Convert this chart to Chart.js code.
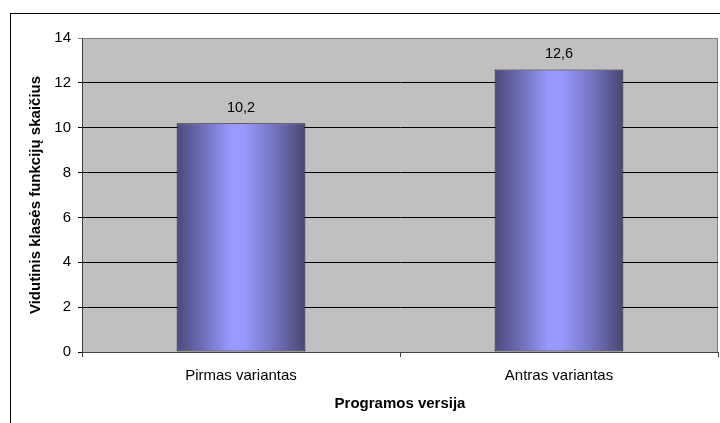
<!DOCTYPE html>
<html>
<head>
<meta charset="utf-8">
<script src="https://cdn.jsdelivr.net/npm/chart.js@4/dist/chart.umd.min.js"></script>
<style>
  html, body { margin: 0; padding: 0; background: #fff; }
  #wrap { width: 720px; height: 423px; }
</style>
</head>
<body>
<div id="wrap"><canvas id="myChart"></canvas></div>
<script>
// program versions and average number of class functions
var versions = ["Pirmas variantas", "Antras variantas"];
var avgFunctions = [10.2, 12.6];
var yTicks = [0, 2, 4, 6, 8, 10, 12, 14];

var FONT = "'Liberation Sans', Arial, sans-serif";

// horizontal shading across each bar, dark at the edges and light in the middle
function barGradient(c) {
    var chart = c.chart;
    var x = chart.scales.x;
    if (!x || c.dataIndex === undefined) return '#9999ff';
    var cx = x.getPixelForValue(c.dataIndex);
    var w = (x.width / versions.length) * 0.405;
    if (!isFinite(cx) || !isFinite(w) || w <= 0) return '#9999ff';
    var g = chart.ctx.createLinearGradient(cx - w / 2, 0, cx + w / 2, 0);
    g.addColorStop(0, '#4a4a7c');
    g.addColorStop(0.18, '#6a6ab2');
    g.addColorStop(0.42, '#9999ff');
    g.addColorStop(0.52, '#9999fc');
    g.addColorStop(0.78, '#7070bc');
    g.addColorStop(1, '#46466e');
    return g;
}

// white page, outer frame and grey plot background
var frame = {
    id: 'frame',
    beforeDraw: function (chart) {
        var ctx = chart.ctx, a = chart.chartArea;
        ctx.save();
        ctx.fillStyle = '#ffffff';
        ctx.fillRect(0, 0, chart.width, chart.height);
        ctx.strokeStyle = '#000000';
        ctx.lineWidth = 1;
        ctx.strokeRect(10.5, 13.5, chart.width + 10, chart.height + 10);
        ctx.fillStyle = '#c0c0c0';
        ctx.fillRect(a.left, a.top, a.right - a.left, a.bottom - a.top);
        ctx.strokeStyle = '#808080';
        ctx.strokeRect(a.left + 0.5, a.top + 0.5, a.right - a.left - 1, a.bottom - a.top);
        ctx.restore();
    }
};

// value above each bar, with a decimal comma
var valueLabels = {
    id: 'valueLabels',
    afterDatasetsDraw: function (chart) {
        var ctx = chart.ctx;
        ctx.save();
        ctx.font = '14.5px ' + FONT;
        ctx.fillStyle = '#000000';
        ctx.textAlign = 'center';
        ctx.textBaseline = 'bottom';
        chart.getDatasetMeta(0).data.forEach(function (bar, i) {
            ctx.fillText(String(avgFunctions[i]).replace('.', ','), bar.x, bar.y - 8);
        });
        ctx.restore();
    }
};

var ctx = document.getElementById("myChart").getContext('2d');
var chart = new Chart(ctx, {
    type: 'bar',
    data: {
        labels: versions,
        datasets: [{
            label: "Vidurkis",
            data: avgFunctions,
            backgroundColor: barGradient,
            borderColor: '#1c1c30',
            borderWidth: 1,
            borderSkipped: false,
            barPercentage: 0.405,
            categoryPercentage: 1
        }]
    },
    options: {
        responsive: true,
        maintainAspectRatio: false,
        animation: false,
        events: [],
        layout: { padding: { left: 0, top: 38, right: 2, bottom: 0 } },
        plugins: {
            legend: { display: false },
            tooltip: { enabled: false }
        },
        scales: {
            x: {
                afterFit: function (s) { s.height = 71; },
                grid: {
                    offset: true,
                    drawOnChartArea: false,
                    drawTicks: true,
                    tickLength: 5,
                    color: '#404040'
                },
                border: { color: '#404040', width: 1 },
                ticks: {
                    color: '#000000',
                    padding: 10,
                    font: { family: FONT, size: 15 }
                },
                title: {
                    display: true,
                    text: 'Programos versija',
                    color: '#000000',
                    font: { family: FONT, size: 15, weight: 'bold' },
                    padding: { top: 0, bottom: 10 }
                }
            },
            y: {
                min: 0,
                max: 14,
                afterFit: function (s) { s.width = 82; },
                afterBuildTicks: function (s) {
                    s.ticks = yTicks.map(function (v) { return { value: v }; });
                },
                grid: {
                    color: function (c) { return c.tick && c.tick.value === 14 ? '#808080' : '#000000'; },
                    tickLength: 4,
                    lineWidth: 1
                },
                border: { color: '#404040', width: 1 },
                ticks: {
                    color: '#000000',
                    padding: 7,
                    font: { family: FONT, size: 15 }
                },
                title: {
                    display: true,
                    text: 'Vidutinis klasės funkcijų skaičius',
                    color: '#000000',
                    font: { family: FONT, size: 15, weight: 'bold' },
                    padding: { top: 27, bottom: 0 }
                }
            }
        }
    },
    plugins: [frame, valueLabels]
});
</script>
</body>
</html>
